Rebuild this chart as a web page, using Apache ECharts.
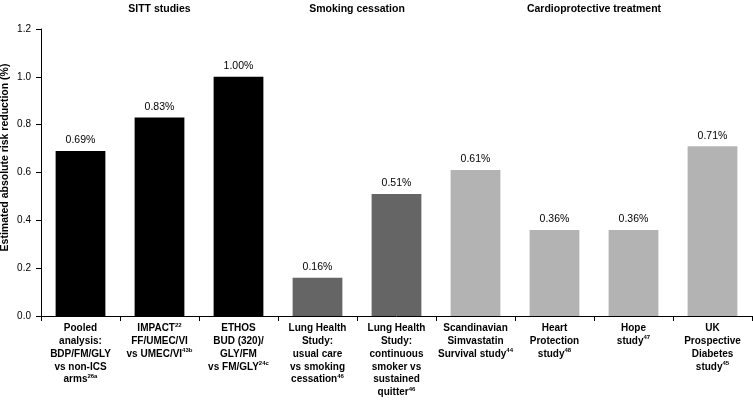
<!DOCTYPE html>
<html>
<head>
<meta charset="utf-8">
<script src="https://cdn.jsdelivr.net/npm/echarts@6/dist/echarts.min.js"></script>
<style>
html,body{margin:0;padding:0;background:#fff;}
#chart{width:753px;height:401px;}
</style>
</head>
<body>
<div id="chart"></div>
<script>
// ---- data ----
const categories = [
  'Pooled\nanalysis:\nBDP/FM/GLY\nvs non-ICS\narms{s|26a}',
  'IMPACT{s|22}\nFF/UMEC/VI\nvs UMEC/VI{s|43b}',
  'ETHOS\nBUD (320)/\nGLY/FM\nvs FM/GLY{s|24c}',
  'Lung Health\nStudy:\nusual care\nvs smoking\ncessation{s|46}',
  'Lung Health\nStudy:\ncontinuous\nsmoker vs\nsustained\nquitter{s|46}',
  'Scandinavian\nSimvastatin\nSurvival study{s|44}',
  'Heart\nProtection\nstudy{s|48}',
  'Hope\nstudy{s|47}',
  'UK\nProspective\nDiabetes\nstudy{s|45}'
];
const values = [0.69, 0.83, 1.00, 0.16, 0.51, 0.61, 0.36, 0.36, 0.71];
const groupNames = ['SITT studies', 'Smoking cessation', 'Cardioprotective treatment'];
const groupOf = [0, 0, 0, 1, 1, 2, 2, 2, 2];
const yTicks = [0, 0.2, 0.4, 0.6, 0.8, 1.0, 1.2];
const yAxisTitle = 'Estimated absolute risk reduction (%)';

// ---- styling ----
const groupColors = ['#000000', '#656565', '#b3b3b3'];
const FONT = 'Liberation Sans, Arial, sans-serif';

const chart = echarts.init(document.getElementById('chart'));
const option = {
  animation: false,
  grid: {left: 41, right: 1, top: 29, bottom: 85, containLabel: false, outerBoundsMode: 'none'},
  xAxis: {
    type: 'category',
    data: categories,
    boundaryGap: true,
    axisLine: {lineStyle: {color: '#000', width: 1}},
    axisTick: {show: true, length: 5, inside: false, alignWithLabel: false, lineStyle: {color: '#000'}},
    axisLabel: {
      interval: 0, margin: 6, color: '#000', fontFamily: FONT, fontWeight: 'bold',
      fontSize: 10, lineHeight: 12.8, align: 'center', hideOverlap: false,
      rich: {
        s: {fontSize: 6, fontWeight: 'bold', fontFamily: FONT, color: '#000', verticalAlign: 'top', lineHeight: 12.8, padding: [0, 0, 5, 0]}
      }
    }
  },
  yAxis: {
    type: 'value',
    min: yTicks[0], max: yTicks[yTicks.length - 1], interval: 0.2,
    name: yAxisTitle, nameLocation: 'middle', nameGap: 30, nameMoveOverlap: false,
    nameTextStyle: {color: '#000', fontFamily: FONT, fontWeight: 'bold', fontSize: 10.5, padding: [0, 0, 0, 30]},
    axisLine: {show: true, lineStyle: {color: '#000'}},
    axisTick: {show: true, length: 5, lineStyle: {color: '#000'}},
    splitLine: {show: false},
    axisLabel: {color: '#000', fontFamily: FONT, fontSize: 10, margin: 10, formatter: v => v.toFixed(1)}
  },
  series: [{
    type: 'bar',
    barCategoryGap: '37%',
    data: values.map((v, i) => ({value: v, itemStyle: {color: groupColors[groupOf[i]]}})),
    label: {
      show: true, position: 'top', distance: 5, color: '#000', fontFamily: FONT, fontSize: 10.5,
      formatter: p => p.value.toFixed(2) + '%'
    }
  }]
};
chart.setOption(option);

// group headings centred over their category spans
const graphics = groupNames.map((name, g) => {
  const idx = groupOf.map((v, i) => v === g ? i : -1).filter(i => i >= 0);
  const x0 = chart.convertToPixel({xAxisIndex: 0}, idx[0]);
  const x1 = chart.convertToPixel({xAxisIndex: 0}, idx[idx.length - 1]);
  return {
    type: 'text', x: (x0 + x1) / 2, y: 4,
    style: {text: name, fill: '#000', font: 'bold 10.5px ' + FONT, align: 'center', verticalAlign: 'top'}
  };
});
chart.setOption({graphic: graphics});
</script>
</body>
</html>
